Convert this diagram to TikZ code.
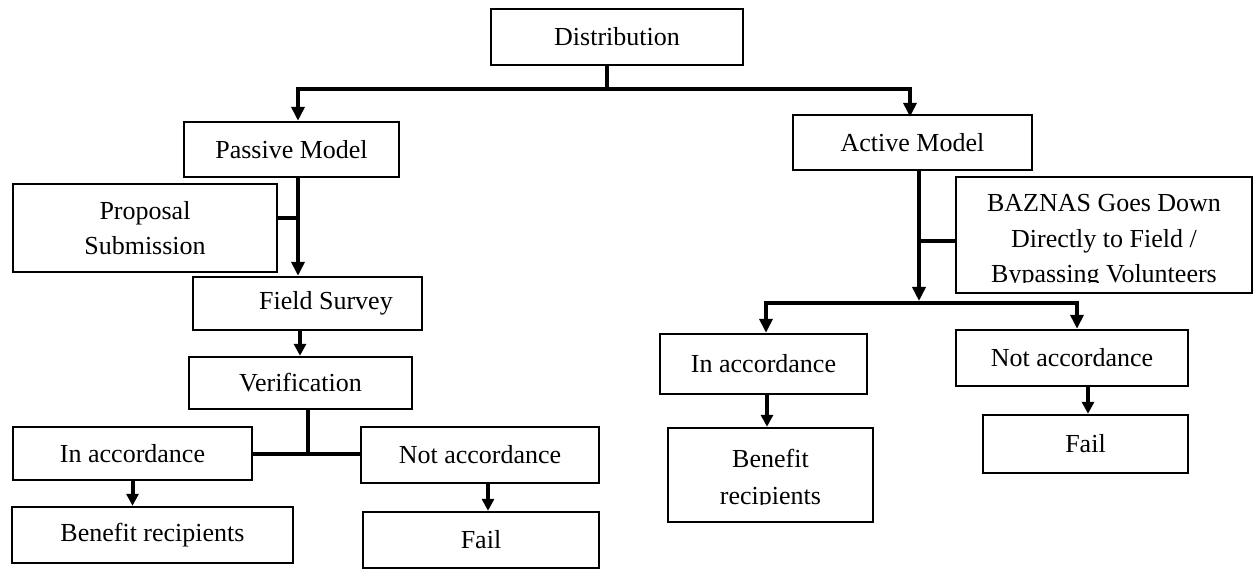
\documentclass[tikz,border=0pt]{standalone}
\usepackage{fontspec}
\setmainfont{Liberation Serif}
\usetikzlibrary{arrows.meta,calc}
\tikzset{
  box/.style={draw, line width=2.4pt, inner sep=0pt, align=center,
    font=\fontsize{26}{35}\selectfont},
  conn/.style={line width=4pt, line cap=rect},
  arr/.style={line width=4pt, -{Triangle[width=13pt,length=14pt]}},
  arrsmall/.style={line width=4pt, -{Triangle[width=12pt,length=12pt]}},
}
\begin{document}
\begin{tikzpicture}[x=1pt,y=-1pt]
\useasboundingbox[fill=white] (0,0) rectangle (1255,569);

% ---------- top ----------
\node[box, minimum width=252pt, minimum height=56pt] (dist) at (617,37) {Distribution};
\coordinate (jtop) at (607,89);
\coordinate (jL) at (298,89);
\coordinate (jR) at (910,89);

% ---------- passive branch ----------
\node[box, minimum width=215pt, minimum height=55pt] (passive) at (291.5,149.5) {Passive Model};
\node[box, minimum width=264pt, minimum height=88pt] (proposal) at (145,228) {Proposal\\Submission};
\coordinate (jP) at (298,218);
\node[box, minimum width=229pt, minimum height=53pt] (field) at (307.5,303.5) {\hspace*{37pt}Field Survey};
\node[box, minimum width=223pt, minimum height=52pt] (verif) at (300.5,383) {Verification};
\coordinate (vB) at (308,454);
\node[box, minimum width=239pt, minimum height=53pt] (inaccL) at (132.5,453.5) {In accordance};
\node[box, minimum width=238pt, minimum height=56pt] (notaccL) at (480,455) {Not accordance};
\node[box, minimum width=281pt, minimum height=56pt] (benL) at (152.5,535) {Benefit recipients};
\node[box, minimum width=236pt, minimum height=56pt] (failL) at (481,540) {Fail};

% ---------- active branch ----------
\node[box, minimum width=239pt, minimum height=55pt] (active) at (912.5,142.5) {Active Model};
\node[box, minimum width=296pt, minimum height=116pt,
  path picture={
    \clip ([yshift=-2pt]path picture bounding box.north west) rectangle
          ([yshift=-106pt]path picture bounding box.north east);
    \node[anchor=base, inner sep=0pt, font=\fontsize{26}{30}\selectfont] (bazA) at ([yshift=-35pt]path picture bounding box.north) {BAZNAS Goes Down};
    \node[anchor=base, inner sep=0pt, font=\fontsize{26}{30}\selectfont] (bazB) at ([yshift=-71pt]path picture bounding box.north) {Directly to Field /};
    \node[anchor=base, inner sep=0pt, font=\fontsize{26}{30}\selectfont] (bazC) at ([yshift=-106pt]path picture bounding box.north) {Bypassing Volunteers};
  }] (baz) at (1104,235) {};
\coordinate (aStub) at (919,241);
\coordinate (aTip) at (919,301);
\coordinate (rL) at (766,303);
\coordinate (rR) at (1077,303);
\node[box, minimum width=207pt, minimum height=60pt] (inaccR) at (763.5,364) {In accordance};
\node[box, minimum width=232pt, minimum height=56pt] (notaccR) at (1072,358) {Not accordance};
\node[box, minimum width=205pt, minimum height=94pt,
  path picture={
    \clip ([yshift=-2pt]path picture bounding box.north west) rectangle
          ([yshift=-76pt]path picture bounding box.north east);
    \node[anchor=base, inner sep=0pt, font=\fontsize{26}{30}\selectfont] (benRA) at ([yshift=-39pt]path picture bounding box.north) {Benefit};
    \node[anchor=base, inner sep=0pt, font=\fontsize{26}{30}\selectfont] (benRB) at ([yshift=-76pt]path picture bounding box.north) {recipients};
  }] (benR) at (770.5,475) {};
\node[box, minimum width=205pt, minimum height=58pt] (failR) at (1085.5,444) {Fail};

% ---------- connectors: top ----------
\draw[conn] (dist.south -| jtop) -- (jtop);
\draw[conn] (jL) -- (jR);
\draw[arr] (jL) -- (jL |- passive.north);
\draw[arr] (jR) -- ([yshift=-3pt]jR |- active.north);

% ---------- connectors: passive ----------
\draw[arr] (passive.south -| jL) -- (field.north -| jL);
\draw[conn] (proposal.east |- jP) -- (jP);
\draw[arrsmall] ([xshift=-7.5pt]field.south) -- ([xshift=-7.5pt]field.south |- verif.north);
\draw[conn] (verif.south -| vB) -- (vB);
\draw[conn] (inaccL.east |- vB) -- (notaccL.west |- vB);
\draw[arrsmall] (inaccL.south) -- (inaccL.south |- benL.north);
\draw[arrsmall] ([xshift=8pt]notaccL.south) -- ([xshift=8pt]notaccL.south |- failL.north);

% ---------- connectors: active ----------
\draw[arr] (active.south -| aStub) -- (aTip);
\draw[conn] (aStub) -- (baz.west |- aStub);
\draw[conn] (rL) -- (rR);
\draw[arr] (rL) -- (rL |- inaccR.north);
\draw[arr] (rR) -- (rR |- notaccR.north);
\draw[arrsmall] ([xshift=3.5pt]inaccR.south) -- ([xshift=3.5pt]inaccR.south |- benR.north);
\draw[arrsmall] ([xshift=16pt]notaccR.south) -- ([xshift=16pt]notaccR.south |- failR.north);
\end{tikzpicture}
\end{document}
